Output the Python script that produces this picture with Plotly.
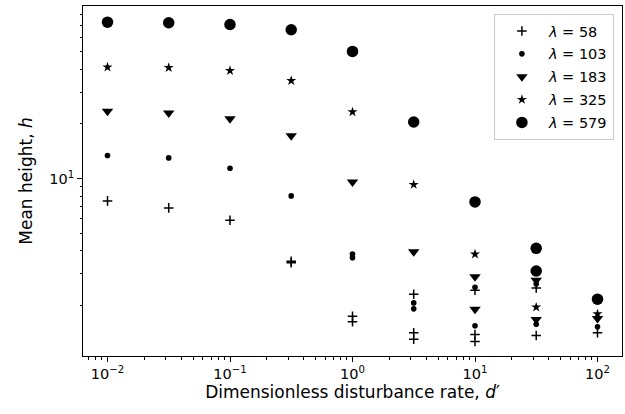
import plotly.graph_objects as go

# Dimensionless disturbance rate d' and mean height h for each lambda
lam_labels = ["58", "103", "183", "325", "579"]

d_58 = [0.01, 0.0316, 0.1, 0.316, 0.316, 1, 1, 3.16, 3.16, 3.16, 10, 10, 10, 31.6, 31.6, 100]
h_58 = [7.53, 6.89, 5.89, 3.50, 3.43, 1.74, 1.62, 2.30, 1.41, 1.30, 2.42, 1.38, 1.26, 2.49, 1.36, 1.41]

d_103 = [0.01, 0.0316, 0.1, 0.316, 1, 1, 3.16, 3.16, 10, 10, 31.6, 31.6, 100]
h_103 = [13.4, 13.0, 11.4, 8.02, 3.83, 3.66, 2.06, 1.91, 2.51, 1.54, 2.62, 1.57, 1.52]

d_183 = [0.01, 0.0316, 0.1, 0.316, 1, 3.16, 10, 10, 31.6, 31.6, 100]
h_183 = [23.5, 23.0, 21.4, 17.2, 9.58, 3.94, 2.87, 1.90, 2.75, 1.67, 1.69]

d_325 = [0.01, 0.0316, 0.1, 0.316, 1, 3.16, 10, 31.6, 100]
h_325 = [41.2, 40.9, 39.4, 34.7, 23.3, 9.27, 3.83, 1.95, 1.79]

d_579 = [0.01, 0.0316, 0.1, 0.316, 1, 3.16, 10, 31.6, 31.6, 100]
h_579 = [72.9, 72.4, 70.8, 66.2, 50.3, 20.5, 7.43, 4.12, 3.09, 2.16]

series_d = [d_58, d_103, d_183, d_325, d_579]
series_h = [h_58, h_103, h_183, h_325, h_579]

# Tick labels
x_tickvals = [0.01, 0.1, 1, 10, 100]
x_ticktext = ["10<sup>−2</sup>", "10<sup>−1</sup>", "10<sup>0</sup>", "10<sup>1</sup>", "10<sup>2</sup>"]
y_tickvals = [10]
y_ticktext = ["10<sup>1</sup>"]

symbols = ["cross-thin", "circle", "triangle-down", "star", "circle"]
sizes = [6.8, 5.6, 10, 7.6, 11.5]

FONT = "DejaVu Sans"

fig = go.Figure()
for lab, dd, hh, sym, sz in zip(lam_labels, series_d, series_h, symbols, sizes):
    marker = dict(symbol=sym, size=sz, color="black")
    if sym == "cross-thin":
        marker["line"] = dict(color="black", width=1.5)
    else:
        marker["line"] = dict(width=0)
    fig.add_trace(go.Scatter(
        x=dd, y=hh, mode="markers", marker=marker,
        name=f"<i>λ</i> = {lab}", legendgroup=lab,
    ))

axis_common = dict(
    type="log", automargin=False,
    showline=True, linecolor="black", linewidth=1, mirror=True,
    showgrid=False, zeroline=False,
    ticks="outside", ticklen=5, tickwidth=1, tickcolor="black",
    tickfont=dict(family=FONT, size=14.5, color="black"),
    minor=dict(ticks="outside", ticklen=2.5, tickwidth=0.8, tickcolor="black",
               dtick="D1", showgrid=False),
)

fig.update_layout(
    width=625, height=414,
    margin=dict(l=83, r=3, t=6, b=58),
    paper_bgcolor="white", plot_bgcolor="white",
    font=dict(family=FONT, size=14.5, color="black"),
    showlegend=True,
    legend=dict(
        x=0.985, y=0.977, xanchor="right", yanchor="top",
        bgcolor="rgba(255,255,255,0.8)", bordercolor="#cccccc", borderwidth=1,
        font=dict(family=FONT, size=14.5, color="black"),
        tracegroupgap=1, itemwidth=44,
    ),
    xaxis=dict(axis_common, range=[-2.2, 2.2],
               tickmode="array", tickvals=x_tickvals, ticktext=x_ticktext,
               title=dict(text="Dimensionless disturbance rate, <i>d</i>′",
                          font=dict(family=FONT, size=17), standoff=4)),
    yaxis=dict(axis_common, range=[0.021, 1.952],
               tickmode="array", tickvals=y_tickvals, ticktext=y_ticktext,
               title=dict(text="Mean height, <i>h</i>",
                          font=dict(family=FONT, size=17), standoff=12)),
)

fig.write_html("out.html", config={"displayModeBar": False},
               post_script="document.body.style.margin='0';")
